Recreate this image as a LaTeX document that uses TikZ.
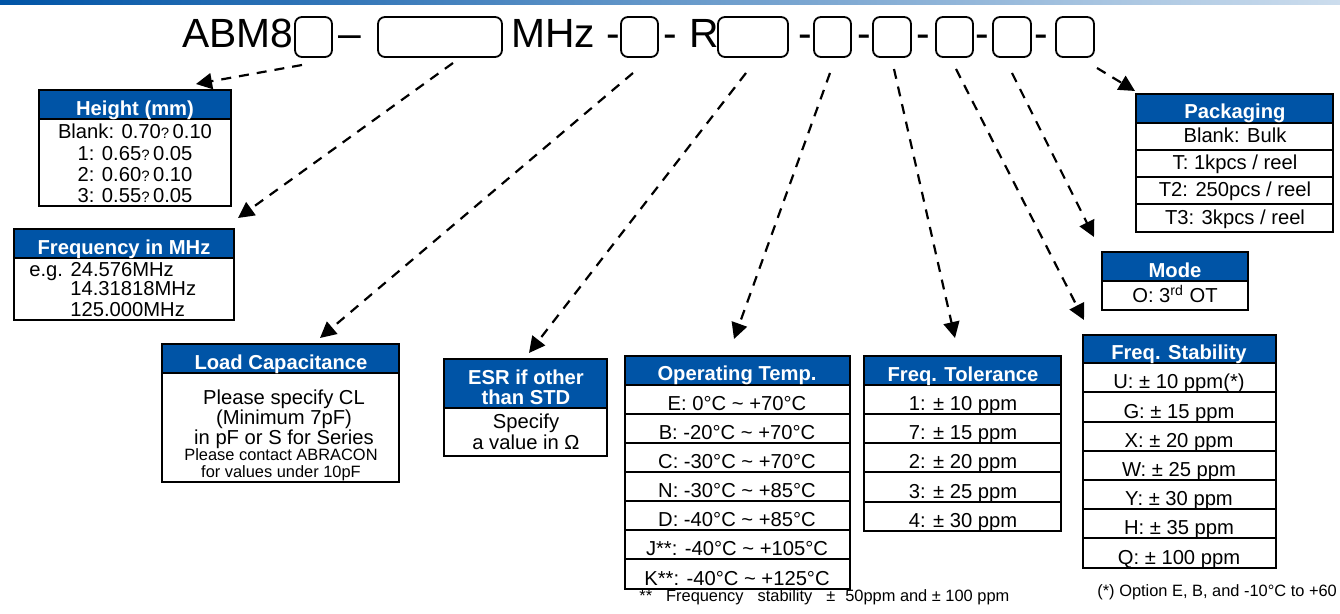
\documentclass[tikz,border=0pt]{standalone}
\usepackage{fontspec}
\setmainfont{Liberation Sans}
\usetikzlibrary{fit,arrows.meta}
\definecolor{hdr}{HTML}{0054A6}
\newcommand{\sq}{{\fontsize{7.5}{8}\selectfont ?}}
\newcommand{\tld}{\textasciitilde}
\tikzset{
  x=0.5pt,y=-0.5pt,
  frame/.style={draw=black,line width=1pt,fill=white,inner sep=0pt,outer sep=0pt},
  hdrbox/.style={draw=black,line width=1pt,fill=hdr,inner sep=0pt,outer sep=0pt},
  slot/.style={draw=black,line width=0.9pt,rounded corners=3.5pt,inner sep=0pt,outer sep=0pt,fill=white},
  big/.style={anchor=base west,inner sep=0pt,font=\fontsize{20.4}{24}\selectfont},
  ttl/.style={anchor=base,inner sep=0pt,text=white,font=\fontsize{10.1}{11}\selectfont\bfseries},
  row/.style={anchor=base,inner sep=0pt,font=\fontsize{10.1}{11}\selectfont},
  rowl/.style={anchor=base west,inner sep=0pt,font=\fontsize{10.1}{11}\selectfont},
  small/.style={anchor=base,inner sep=0pt,font=\fontsize{8.2}{10}\selectfont},
  link/.style={draw=black,line width=1.1pt,dash pattern=on 5pt off 4pt,-{Triangle[length=8pt,width=8pt]}},
}
% name, x1, y1, x2, y2, bar
\newcommand{\cardbox}[6]{%
  \node[frame,fit={(#2,#3)(#4,#5)}] (#1) {};
  \node[hdrbox,fit={(#2,#3)(#4,#6)}] (#1h) {};
}
\begin{document}
\begin{tikzpicture}
\useasboundingbox (0,0) rectangle (1340,614);
\shade[left color=hdr,right color=hdr!20!white] (0,0) rectangle (1340,5);

% top part number
\node[big] (tA) at (182,48) {ABM8};
\node[slot,fit={(295,17)(332,57)}] (s1) {};
\node[big] (td1) at (338,48) {–};
\node[slot,fit={(378,17)(502,57)}] (s2) {};
\node[big] (tM) at (511,48) {MHz};
\node[big] (td2) at (606,48) {-};
\node[slot,fit={(621,17)(658,57)}] (s3) {};
\node[big] (td3) at (663,48) {-};
\node[big] (tR) at (689,48) {R};
\node[slot,fit={(718,17)(788,57)}] (s4) {};
\node[big] (td4) at (798,48) {-};
\node[slot,fit={(814,17)(851,57)}] (s5) {};
\node[big] (td5) at (857,48) {-};
\node[slot,fit={(873,17)(911,57)}] (s6) {};
\node[big] (td6) at (916,48) {-};
\node[slot,fit={(936,17)(973,57)}] (s7) {};
\node[big] (td7) at (975,48) {-};
\node[slot,fit={(993,17)(1031,57)}] (s8) {};
\node[big] (td8) at (1034,48) {-};
\node[slot,fit={(1056,17)(1094,57)}] (s9) {};

% Height
\cardbox{height}{39}{90}{231}{206}{119}
\node[ttl] (heightt) at (135,116) {Height (mm)};
\node[row] (h1) at (135,139) {Blank: 0.70\sq\,0.10};
\node[row] (h2) at (135,161) {1: 0.65\sq\,0.05};
\node[row] (h3) at (135,182) {2: 0.60\sq\,0.10};
\node[row] (h4) at (135,203) {3: 0.55\sq\,0.05};

% Frequency
\cardbox{freq}{14}{229}{234}{320}{258}
\node[ttl] (freqt) at (124,255) {Frequency in MHz};
\node[rowl] (f1) at (29,277) {e.g. 24.576MHz};
\node[rowl] (f2) at (70,296) {14.31818MHz};
\node[rowl] (f3) at (70,317) {125.000MHz};

% Load capacitance
\cardbox{load}{162}{344}{399}{482}{373}
\node[ttl] (loadt) at (281,370) {Load Capacitance};
\node[row] (l1) at (284,405) {Please specify CL};
\node[row] (l2) at (284,425) {(Minimum 7pF)};
\node[row] (l3) at (284,445) {in pF or S for Series};
\node[small] (l4) at (281,461) {Please contact ABRACON};
\node[small] (l5) at (281,478) {for values under 10pF};

% ESR
\cardbox{esr}{444}{359}{607}{456}{408}
\node[ttl] (esrt1) at (526,385) {ESR if other};
\node[ttl] (esrt2) at (526,405) {than STD};
\node[row] (e1) at (526,429) {Specify};
\node[row] (e2) at (526,450) {a value in Ω};

% Operating temp
\cardbox{op}{625}{356}{850}{589}{385}
\foreach \n/\a/\b/\t in {1/385/414/{E: 0°C \tld\ +70°C},2/414/443/{B: -20°C \tld\ +70°C},3/443/472/{C: -30°C \tld\ +70°C},4/472/501/{N: -30°C \tld\ +85°C},5/501/530/{D: -40°C \tld\ +85°C},6/530/559/{J**: -40°C \tld\ +105°C},7/559/589/{K**: -40°C \tld\ +125°C}}{
  \node[frame,fit={(625,\a)(850,\b)}] (opr\n) {};
  \node[row] (opx\n) at (737,\b-3.5) {\t};
}
\node[ttl] (opt) at (737,381) {Operating Temp.};

% Tolerance
\cardbox{tol}{864}{356}{1061}{531}{385}
\foreach \n/\a/\b/\t in {1/385/414/{1: ± 10 ppm},2/414/443/{7: ± 15 ppm},3/443/472/{2: ± 20 ppm},4/472/502/{3: ± 25 ppm},5/502/531/{4: ± 30 ppm}}{
  \node[frame,fit={(864,\a)(1061,\b)}] (tolr\n) {};
  \node[row] (tolx\n) at (963,\b-3.5) {\t};
}
\node[ttl] (tolt) at (963,382) {Freq. Tolerance};

% Stability
\cardbox{stab}{1083}{335}{1276}{568}{363}
\foreach \n/\a/\b/\t in {1/363/392/{U: ± 10 ppm(*)},2/392/422/{G: ± 15 ppm},3/422/451/{X: ± 20 ppm},4/451/480/{W: ± 25 ppm},5/480/509/{Y: ± 30 ppm},6/509/538/{H: ± 35 ppm},7/538/568/{Q: ± 100 ppm}}{
  \node[frame,fit={(1083,\a)(1276,\b)}] (stabr\n) {};
  \node[row] (stabx\n) at (1179,\b-3.5) {\t};
}
\node[ttl] (stabt) at (1179,360) {Freq. Stability};

% Packaging
\cardbox{pack}{1136}{94}{1333}{232}{123}
\foreach \n/\a/\b/\t in {1/123/150/{Blank: Bulk},2/150/177/{T: 1kpcs / reel},3/177/204/{T2: 250pcs / reel},4/204/232/{T3: 3kpcs / reel}}{
  \node[frame,fit={(1136,\a)(1333,\b)}] (packr\n) {};
  \node[row] (packx\n) at (1235,\b-7) {\t};
}
\node[ttl] (packt) at (1235,119) {Packaging};

% Mode
\cardbox{mode}{1102}{252}{1248}{310}{281}
\node[ttl] (modet) at (1175,278) {Mode};
\node[row] (m1) at (1175,303) {O: 3\textsuperscript{rd} OT};

% footnotes
\node[rowl,font=\fontsize{8.2}{10}\selectfont] (fn1) at (639,602) {**\hspace{7pt}Frequency\hspace{7pt}stability\hspace{7pt}±\hspace{5pt}50ppm and ± 100 ppm};
\node[rowl,font=\fontsize{8.2}{10}\selectfont] (fn2) at (1097,597) {(*) Option E, B, and -10°C to +60};

% connectors
\coordinate (a1s) at (302,65);  \coordinate (a1e) at (196,84);
\coordinate (a2s) at (453,63);  \coordinate (a2e) at (238,218);
\coordinate (a3s) at (633,73);  \coordinate (a3e) at (320,338);
\coordinate (a4s) at (746,73);  \coordinate (a4e) at (529,353);
\coordinate (a5s) at (830,73);  \coordinate (a5e) at (734,339);
\coordinate (a6s) at (894,69);  \coordinate (a6e) at (955,338);
\coordinate (a7s) at (956,69);  \coordinate (a7e) at (1084,320);
\coordinate (a8s) at (1012,73); \coordinate (a8e) at (1094,237);
\coordinate (a9s) at (1097,68); \coordinate (a9e) at (1135,91);
\foreach \i in {1,...,9}{ \draw[link] (a\i s) -- (a\i e); }
\end{tikzpicture}
\end{document}
